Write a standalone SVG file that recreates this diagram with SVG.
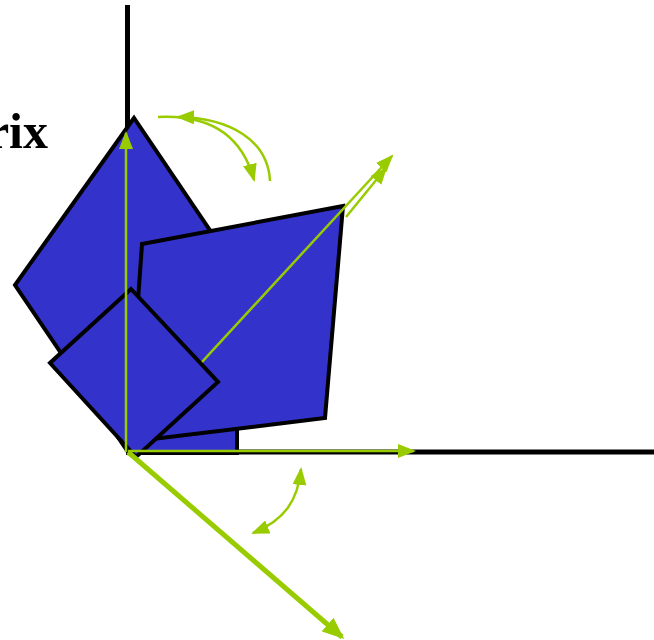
<svg xmlns="http://www.w3.org/2000/svg" width="654" height="640" viewBox="0 0 654 640">
<defs>
<style>
.shape{fill:#3333cc;stroke:#000;stroke-width:4;stroke-linejoin:miter}
.axis{stroke:#000;stroke-width:5;fill:none}
.g{stroke:#99cc00;stroke-width:2.5;fill:none}
.gt{stroke:#99cc00;stroke-width:5;fill:none}
</style>
<marker id="ah" viewBox="0 0 18 14" refX="16" refY="7" markerWidth="18" markerHeight="14" markerUnits="userSpaceOnUse" orient="auto-start-reverse"><path d="M0,0 L18,7 L0,14 z" fill="#99cc00"/></marker>
<marker id="ahb" viewBox="0 0 22 18" refX="19" refY="9" markerWidth="22" markerHeight="18" markerUnits="userSpaceOnUse" orient="auto"><path d="M0,0 L22,9 L0,18 z" fill="#99cc00"/></marker>
</defs>
<text x="48" y="148" text-anchor="end" font-family="'Liberation Serif', serif" font-weight="bold" font-size="50" fill="#000">rix</text>
<g id="axes">
<line class="axis" x1="127.5" y1="5" x2="127.5" y2="452"/>
<line class="axis" x1="127.5" y1="452" x2="654" y2="452"/>
</g>
<g id="square"><rect class="shape" x="128" y="343" width="109" height="110"/></g>
<g id="big-diamond"><polygon class="shape" points="134,118 15,285 128,452 247,285"/></g>
<g id="quad"><polygon class="shape" points="142,244 343,206 325,418 128,442"/></g>
<g id="connectors-under">
<line class="g" x1="130" y1="440" x2="392" y2="156" marker-end="url(#ah)"/>
<line class="g" x1="346" y1="217" x2="386" y2="168" marker-end="url(#ah)"/>
</g>
<g id="small-diamond"><polygon class="shape" points="131,289 218,382 136,457 50,363"/></g>
<g id="connectors">
<line class="g" x1="126" y1="452" x2="126" y2="133" marker-end="url(#ah)"/>
<line class="g" x1="128" y1="451" x2="414" y2="451" marker-end="url(#ah)"/>
<line class="gt" x1="128" y1="452" x2="342" y2="637" marker-end="url(#ahb)"/>
<path class="g" d="M158,117 C200,115 240,128 254,180" marker-end="url(#ah)"/>
<path class="g" d="M270,181 C268,140 230,118 178,117" marker-end="url(#ah)"/>
<path class="g" d="M301,469 C298,500 285,520 253,533" marker-start="url(#ah)" marker-end="url(#ah)"/>
</g>
</svg>
